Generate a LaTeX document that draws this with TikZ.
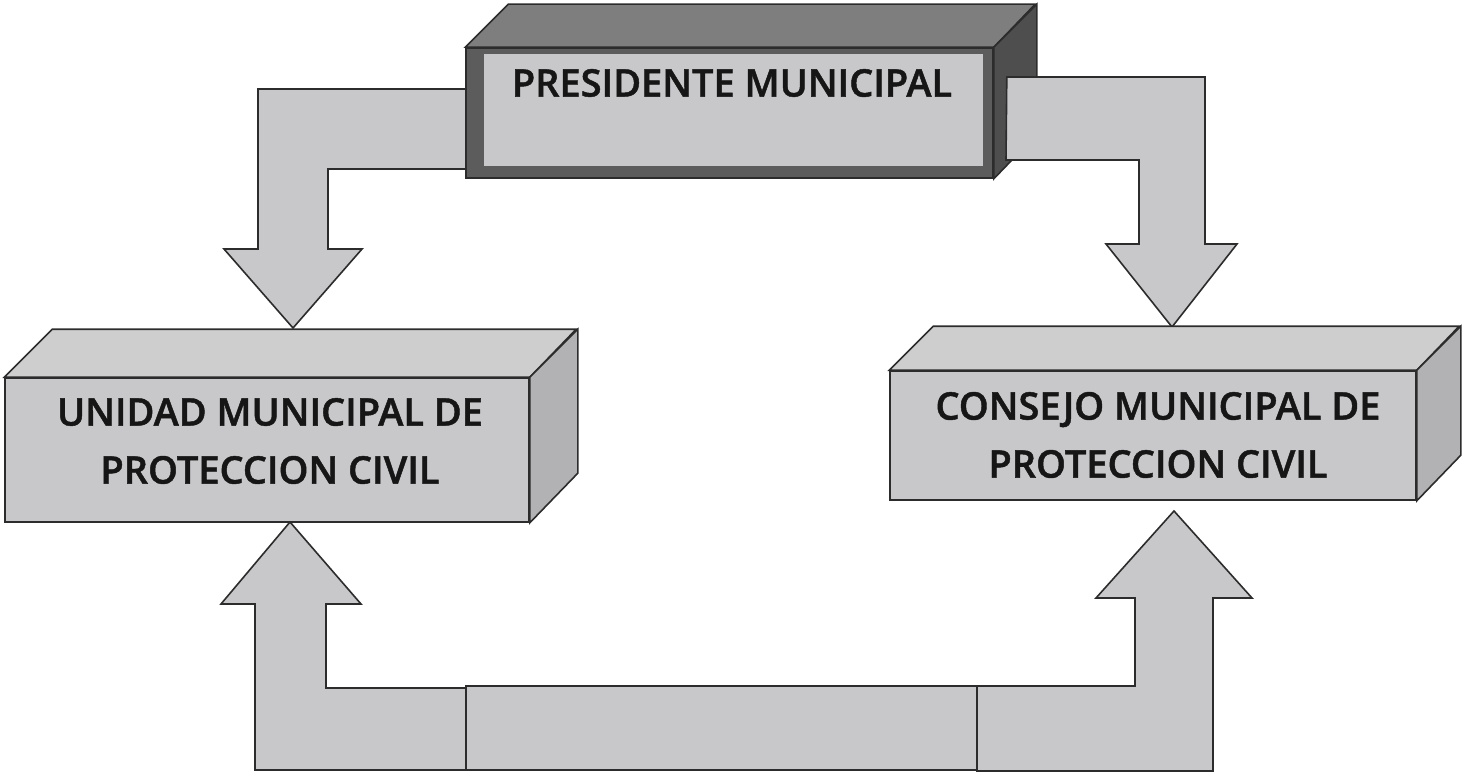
\documentclass[tikz,border=0pt]{standalone}
\usepackage{fontspec}
\setmainfont{Open Sans}[BoldFont={Open Sans Semibold}, BoldFeatures={FakeBold=1.2}]
\usetikzlibrary{calc}
\definecolor{lightfill}{HTML}{C8C8CA}
\definecolor{lighttop}{HTML}{CECECF}
\definecolor{lightside}{HTML}{B2B2B4}
\definecolor{darktop}{HTML}{7E7E7E}
\definecolor{darkfront}{HTML}{5C5C5C}
\definecolor{darkside}{HTML}{4E4E4E}
\definecolor{edge}{HTML}{2C2C2C}
\definecolor{ink}{HTML}{161616}
\tikzset{
  outline/.style={draw=edge, line width=1.6pt, line join=miter},
  arrowshape/.style={outline, fill=lightfill},
  frontbox/.style={outline, fill=lightfill, rectangle, inner sep=0pt},
  darkbox/.style={outline, fill=darkfront, rectangle, inner sep=0pt},
  boxtext/.style={text=ink, align=center, inner sep=0pt,
    font=\fontsize{38}{58}\selectfont\bfseries},
}
\begin{document}
\begin{tikzpicture}[x=1pt, y=-1pt]
\useasboundingbox (0,0) rectangle (1462,776);

% top-left arrow lies behind the president box
\coordinate (tlend) at (480,89);
\draw[arrowshape] (tlend) -- (258,89) -- (258,249) -- (224,249) -- (293,328)
  -- (362,249) -- (328,249) -- (328,169) -- (480,169) -- cycle;

% President box
\node[darkbox, minimum width=527pt, minimum height=130pt] (pres) at (729.5,113) {};
\draw[outline, fill=darktop] (pres.north west) -- ++(43,-43) -- ++(527,0) -- (pres.north east) -- cycle;
\draw[outline, fill=darkside] (pres.north east) -- ++(43,-43) -- ++(0,130) -- (pres.south east) -- cycle;
\node[rectangle, fill=lightfill, draw=darkfront, line width=0.8pt, minimum width=500pt, minimum height=113pt, inner sep=0pt] (presinner) at (733,109.5) {};
\node[boxtext] (preslbl) at (732,83) {PRESIDENTE MUNICIPAL};

% top-right arrow drawn over the box's right face
\coordinate (trstart) at ($(pres.east |- 0,77)+(13,0)$);
\draw[arrowshape] (trstart)
  -- (1205,77) -- (1205,244) -- (1237,244) -- (1172,327) -- (1106,244)
  -- (1139,244) -- (1139,160) -- (1006,160) -- cycle;

% Unidad box
\node[frontbox, minimum width=524pt, minimum height=144pt] (unidad) at (267,450) {};
\draw[outline, fill=lighttop] (unidad.north west) -- ++(48,-48) -- ++(524,0) -- (unidad.north east) -- cycle;
\draw[outline, fill=lightside] (unidad.north east) -- ++(48,-48) -- ++(0,144) -- (unidad.south east) -- cycle;
\node[boxtext] (unidadlbl) at (270,441) {UNIDAD MUNICIPAL DE\\PROTECCION CIVIL};

% Consejo box
\node[frontbox, minimum width=526pt, minimum height=129pt] (consejo) at (1153,435.5) {};
\draw[outline, fill=lighttop] (consejo.north west) -- ++(44,-44) -- ++(526,0) -- (consejo.north east) -- cycle;
\draw[outline, fill=lightside] (consejo.north east) -- ++(44,-44) -- ++(0,129) -- (consejo.south east) -- cycle;
\node[boxtext] (consejolbl) at (1158,435) {CONSEJO MUNICIPAL DE\\PROTECCION CIVIL};

% bottom connectors
\coordinate (bltip) at (290,522);
\draw[arrowshape] (466,688) -- (326,688) -- (326,604) -- (361,604) -- (bltip)
  -- (221,604) -- (255,604) -- (255,770) -- (466,770) -- cycle;
\node[frontbox, minimum width=511pt, minimum height=84pt] (bottombar) at (721.5,728) {};
\coordinate (brtip) at (1174,511);
\draw[arrowshape] (977,686) -- (1135,686) -- (1135,598) -- (1096,598) -- (brtip)
  -- (1252,598) -- (1213,598) -- (1213,771) -- (977,771) -- cycle;
\end{tikzpicture}
\end{document}
